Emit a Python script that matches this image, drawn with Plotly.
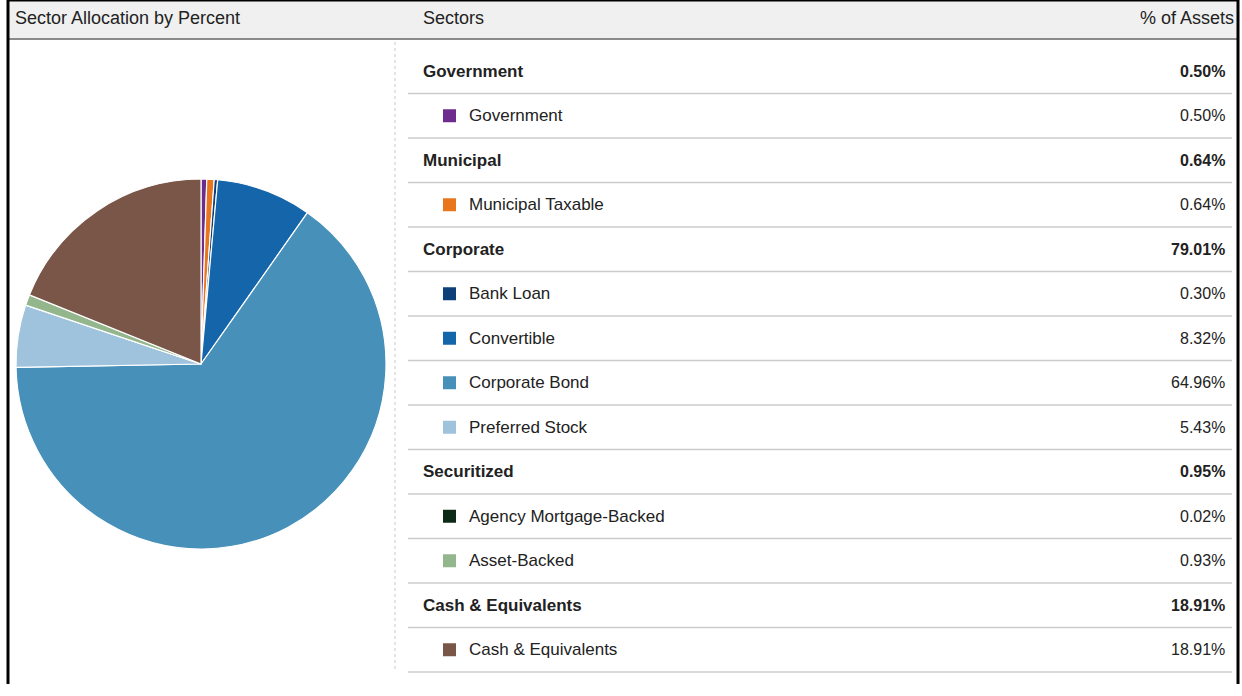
import plotly.graph_objects as go

W, H = 1242, 696

# ---- data ----
groups = ["Government", "Municipal", "Corporate", "Securitized", "Cash & Equivalents"]
group_values = [0.50, 0.64, 79.01, 0.95, 18.91]
sectors = [
    ["Government"],
    ["Municipal Taxable"],
    ["Bank Loan", "Convertible", "Corporate Bond", "Preferred Stock"],
    ["Agency Mortgage-Backed", "Asset-Backed"],
    ["Cash & Equivalents"],
]
sector_values = [
    [0.50],
    [0.64],
    [0.30, 8.32, 64.96, 5.43],
    [0.02, 0.93],
    [18.91],
]
sector_colors = [
    ["#6E2C8F"],
    ["#E8761C"],
    ["#0D3F78", "#1565AA", "#4690B9", "#9FC3DD"],
    ["#0D2A17", "#93B68C"],
    ["#7A5648"],
]

labels = [s for g in sectors for s in g]
values = [v for g in sector_values for v in g]
colors = [c for g in sector_colors for c in g]


def px(x):
    return x / W


def py(y):
    return 1 - y / H


fig = go.Figure()
fig.add_trace(go.Pie(
    labels=labels, values=values, sort=False, direction="clockwise", rotation=0,
    marker=dict(colors=colors, line=dict(color="white", width=1.2)),
    textinfo="none", hoverinfo="label+percent", showlegend=False,
    domain=dict(x=[px(16), px(386)], y=[py(549), py(179)]),
))

shapes = []
ann = []
FONT = "Liberation Sans, Arial, sans-serif"
TXT = "#222222"
LBL = 17
NUM = 16
HDR = 18

# header
shapes.append(dict(type="rect", xref="paper", yref="paper", x0=px(8), x1=px(1237), y0=py(39), y1=py(0),
                   fillcolor="#f0f0f0", line=dict(width=0), layer="below"))
shapes.append(dict(type="line", xref="paper", yref="paper", x0=px(8), x1=px(1237), y0=py(39), y1=py(39),
                   line=dict(color="#8a8a8a", width=2)))
# frame
shapes.append(dict(type="line", xref="paper", yref="paper", x0=px(8), x1=px(8), y0=py(0), y1=py(684),
                   line=dict(color="black", width=3)))
shapes.append(dict(type="line", xref="paper", yref="paper", x0=px(1238), x1=px(1238), y0=py(0), y1=py(684),
                   line=dict(color="black", width=3)))
shapes.append(dict(type="line", xref="paper", yref="paper", x0=px(8), x1=px(1238), y0=py(0.5), y1=py(0.5),
                   line=dict(color="black", width=2)))
# dotted separator
shapes.append(dict(type="line", xref="paper", yref="paper", x0=px(395), x1=px(395), y0=py(42), y1=py(672),
                   line=dict(color="#c8c8c8", width=1, dash="dot")))

ann.append(dict(x=px(13), y=py(18), text="Sector Allocation by Percent", showarrow=False,
                xanchor="left", yanchor="middle", font=dict(size=HDR, color=TXT, family=FONT)))
ann.append(dict(x=px(421), y=py(18), text="Sectors", showarrow=False,
                xanchor="left", yanchor="middle", font=dict(size=HDR, color=TXT, family=FONT)))
ann.append(dict(x=px(1236), y=py(18), text="% of Assets", showarrow=False,
                xanchor="right", yanchor="middle", font=dict(size=HDR, color=TXT, family=FONT)))

row_h = 44.5
y = 49
for g, gv, subs, svals, scols in zip(groups, group_values, sectors, sector_values, sector_colors):
    cy = y + row_h / 2
    ann.append(dict(x=px(421), y=py(cy), text="<b>%s</b>" % g, showarrow=False,
                    xanchor="left", yanchor="middle", font=dict(size=LBL, color=TXT, family=FONT)))
    ann.append(dict(x=px(1227), y=py(cy), text="<b>%.2f%%</b>" % gv, showarrow=False,
                    xanchor="right", yanchor="middle", font=dict(size=NUM, color=TXT, family=FONT)))
    y += row_h
    shapes.append(dict(type="line", xref="paper", yref="paper", x0=px(408), x1=px(1232), y0=py(y), y1=py(y),
                       line=dict(color="#cccccc", width=1.5)))
    for s, v, c in zip(subs, svals, scols):
        cy = y + row_h / 2
        shapes.append(dict(type="rect", xref="paper", yref="paper", x0=px(443), x1=px(456),
                           y0=py(cy + 6.5), y1=py(cy - 6.5), fillcolor=c, line=dict(width=0)))
        ann.append(dict(x=px(467), y=py(cy), text=s, showarrow=False,
                        xanchor="left", yanchor="middle", font=dict(size=LBL, color=TXT, family=FONT)))
        ann.append(dict(x=px(1227), y=py(cy), text="%.2f%%" % v, showarrow=False,
                        xanchor="right", yanchor="middle", font=dict(size=NUM, color=TXT, family=FONT)))
        y += row_h
        shapes.append(dict(type="line", xref="paper", yref="paper", x0=px(408), x1=px(1232), y0=py(y), y1=py(y),
                           line=dict(color="#cccccc", width=1.5)))

fig.update_layout(width=W, height=H, margin=dict(l=0, r=0, t=0, b=0),
                  paper_bgcolor="white", plot_bgcolor="white",
                  shapes=shapes, annotations=ann)
fig.write_html("out.html", config={"displayModeBar": False},
               post_script="document.body.style.margin='0px';document.body.style.overflow='hidden';")
